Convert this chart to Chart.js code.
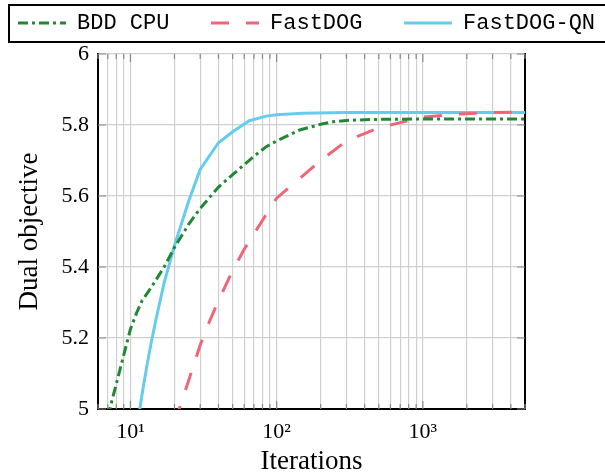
<!DOCTYPE html>
<html>
<head>
<meta charset="utf-8">
<script src="https://cdn.jsdelivr.net/npm/chart.js@4/dist/chart.umd.min.js"></script>
<style>
  html, body { margin: 0; padding: 0; background: #fff; }
  canvas { display: block; }
</style>
</head>
<body>
<canvas id="chart" width="605" height="475"></canvas>
<script>
// --- DONNEES ---
const seriesNames = ['BDD CPU', 'FastDOG', 'FastDOG-QN'];
const seriesColors = ['#228833', '#EE6677', '#66CCEE'];

const bddIter = [7, 10, 11, 12, 14, 17, 20, 25, 30, 40, 50, 70, 85, 100, 144, 200, 243, 300, 500, 1000, 5000];
const bddDual = [4.978, 5.225, 5.27, 5.305, 5.345, 5.40, 5.455, 5.52, 5.565, 5.625, 5.66, 5.712, 5.739, 5.755, 5.786, 5.802, 5.809, 5.813, 5.816, 5.817, 5.817];

const fdIter = [20, 25, 30, 35, 40, 50, 60, 75, 100, 140, 200, 300, 500, 1000, 1800, 3000, 5000];
const fdDual = [4.96, 5.08, 5.18, 5.25, 5.305, 5.39, 5.45, 5.513, 5.594, 5.645, 5.70, 5.755, 5.792, 5.822, 5.831, 5.835, 5.836];

const qnIter = [11, 12, 13, 14, 15, 17, 20, 25, 30, 40, 50, 65, 85, 100, 150, 300, 5000];
const qnDual = [4.94, 5.04, 5.125, 5.195, 5.255, 5.355, 5.46, 5.585, 5.675, 5.75, 5.781, 5.812, 5.825, 5.829, 5.833, 5.835, 5.835];

// graduations
const xTickValues = [6, 7, 8, 9, 10, 20, 30, 40, 50, 60, 70, 80, 90, 100, 200, 300, 400, 500, 600, 700, 800, 900, 1000, 2000, 3000, 4000, 5000];
const xMajor = [10, 100, 1000];
const xMajorLabels = ['10¹', '10²', '10³'];
const yTickValues = [5, 5.2, 5.4, 5.6, 5.8, 6];
const yTickLabels = ['5', '5.2', '5.4', '5.6', '5.8', '6'];

const toPoints = (xs, ys) => xs.map((x, i) => ({ x, y: ys[i] }));

Chart.defaults.font.family = "'Liberation Serif', serif";
Chart.defaults.color = '#000';

// --- PLUGINS ---
// espace sous la légende
const legendGap = {
    id: 'legendGap',
    beforeLayout(chart) {
        const lg = chart.legend;
        if (!lg || lg._gapPatched) return;
        const fit = lg.fit;
        lg.fit = function () { fit.call(this); this.height += 10; };
        lg._gapPatched = true;
    }
};

// cadre de la légende
const legendFrame = {
    id: 'legendFrame',
    afterDraw(chart) {
        const lg = chart.legend, ctx = chart.ctx;
        ctx.save();
        ctx.lineWidth = 2;
        ctx.strokeStyle = '#000';
        ctx.strokeRect(lg.left - 7, lg.top - 5, chart.width, 37);
        ctx.restore();
    }
};

// petites graduations vers l'intérieur
const innerTicks = {
    id: 'innerTicks',
    beforeDatasetsDraw(chart) {
        const { ctx, chartArea: a, scales: { x, y } } = chart;
        ctx.save();
        ctx.strokeStyle = '#8a8a8a';
        ctx.lineWidth = 1.2;
        ctx.beginPath();
        y.ticks.forEach(t => {
            const p = y.getPixelForValue(t.value);
            ctx.moveTo(a.left, p); ctx.lineTo(a.left + 8, p);
            ctx.moveTo(a.right - 8, p); ctx.lineTo(a.right, p);
        });
        x.ticks.forEach(t => {
            const p = x.getPixelForValue(t.value);
            const len = xMajor.includes(t.value) ? 8 : 5;
            ctx.moveTo(p, a.bottom); ctx.lineTo(p, a.bottom - len);
            ctx.moveTo(p, a.top); ctx.lineTo(p, a.top + len);
        });
        ctx.stroke();
        ctx.restore();
    }
};

new Chart(document.getElementById('chart'), {
    type: 'line',
    data: {
        datasets: [
            { label: seriesNames[0], data: toPoints(bddIter, bddDual), borderColor: seriesColors[0], backgroundColor: seriesColors[0], borderWidth: 3, borderDash: [10, 4, 3, 4], pointRadius: 0, tension: 0, fill: false },
            { label: seriesNames[1], data: toPoints(fdIter, fdDual), borderColor: seriesColors[1], backgroundColor: seriesColors[1], borderWidth: 3, borderDash: [18, 17], pointRadius: 0, tension: 0, fill: false },
            { label: seriesNames[2], data: toPoints(qnIter, qnDual), borderColor: seriesColors[2], backgroundColor: seriesColors[2], borderWidth: 3, pointRadius: 0, tension: 0, fill: false }
        ]
    },
    options: {
        responsive: false,
        animation: false,
        devicePixelRatio: 1,
        layout: { padding: { left: 16, top: 10, right: 0, bottom: 0 } },
        scales: {
            x: {
                type: 'logarithmic', min: 6, max: 5000,
                afterBuildTicks: s => { s.ticks = xTickValues.map(v => ({ value: v })); },
                afterFit: s => { s.height = 66; },
                ticks: {
                    autoSkip: false, maxRotation: 0, padding: 10, color: '#000', font: { size: 22 },
                    callback: v => { const k = xMajor.indexOf(v); return k < 0 ? '' : xMajorLabels[k]; }
                },
                grid: { color: '#d0d0d0', lineWidth: 1.2, drawTicks: false },
                border: { color: '#000', width: 2 },
                title: { display: true, text: 'Iterations', color: '#000', font: { size: 27, lineHeight: 1 }, padding: 0 }
            },
            y: {
                min: 5, max: 6,
                afterBuildTicks: s => { s.ticks = yTickValues.map(v => ({ value: v })); },
                afterFit: s => { s.width = 82; },
                ticks: {
                    padding: 9, color: '#000', font: { size: 22 },
                    callback: (v, i) => yTickLabels[i]
                },
                grid: { color: '#d0d0d0', lineWidth: 1.2, drawTicks: false },
                border: { color: '#000', width: 2 },
                title: { display: true, text: 'Dual objective', color: '#000', font: { size: 27, lineHeight: 1 }, padding: 0 }
            },
            y2: {
                position: 'right', min: 5, max: 6,
                afterFit: s => { s.width = 80; },
                ticks: { display: false },
                grid: { display: false, drawTicks: false },
                border: { color: '#000', width: 2 }
            }
        },
        plugins: {
            tooltip: { enabled: false },
            legend: {
                position: 'top', align: 'start',
                labels: {
                    usePointStyle: true, pointStyleWidth: 48, padding: 2, color: '#000',
                    font: { family: "'Liberation Mono', monospace", size: 22 },
                    generateLabels: ch => ch.data.datasets.map((ds, i) => ({
                        text: ds.label.padEnd(10),
                        strokeStyle: ds.borderColor,
                        fillStyle: ds.borderColor,
                        lineWidth: 3,
                        lineDash: ds.borderDash || [],
                        lineCap: 'butt',
                        pointStyle: 'line',
                        hidden: false,
                        fontColor: '#000',
                        datasetIndex: i
                    }))
                }
            }
        }
    },
    plugins: [legendGap, legendFrame, innerTicks]
});
</script>
</body>
</html>
